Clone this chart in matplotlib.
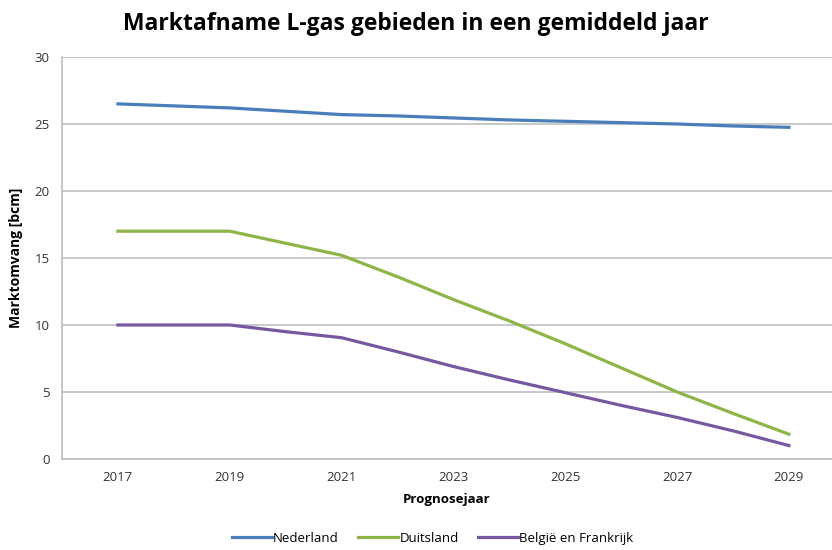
import matplotlib.pyplot as plt
import numpy as np

plt.rcParams['font.family'] = ['Open Sans', 'DejaVu Sans']

jaren = [2017, 2018, 2019, 2020, 2021, 2022, 2023, 2024, 2025, 2026, 2027, 2028, 2029]
nederland = [26.5, 26.35, 26.2, 25.95, 25.7, 25.6, 25.45, 25.3, 25.2, 25.1, 25.0, 24.85, 24.75]
duitsland = [17.0, 17.0, 17.0, 16.1, 15.2, 13.6, 11.9, 10.3, 8.6, 6.8, 5.0, 3.4, 1.85]
belgie_frankrijk = [10.0, 10.0, 10.0, 9.5, 9.05, 8.0, 6.9, 5.9, 4.95, 4.0, 3.1, 2.1, 1.0]

xticks = [2017, 2019, 2021, 2023, 2025, 2027, 2029]
yticks = [0, 5, 10, 15, 20, 25, 30]

fig = plt.figure(figsize=(8.32, 5.5), dpi=100)
ax = fig.add_axes([0.0745, 0.1655, 0.9255, 0.7309])

ax.plot(jaren, nederland, color='#4a7ebb', lw=2.3, label='Nederland')
ax.plot(jaren, duitsland, color='#8fb448', lw=2.3, label='Duitsland')
ax.plot(jaren, belgie_frankrijk, color='#7558a0', lw=2.3, label='België en Frankrijk')

ax.set_xlim(2016.0, 2029.77)
ax.set_ylim(0, 30)
ax.set_xticks(xticks)
ax.set_yticks(yticks)
ax.tick_params(length=0, labelsize=9.5, colors='#333333')
ax.tick_params(axis='x', pad=9)
ax.tick_params(axis='y', pad=9)
ax.grid(axis='y', color='#c0c0c0', lw=1.2)
ax.set_axisbelow(True)
for s in ['top', 'right']:
    ax.spines[s].set_visible(False)
for s in ['left', 'bottom']:
    ax.spines[s].set_color('#bdbdbd')
    ax.spines[s].set_linewidth(1.2)

ax.set_xlabel('Prognosejaar', fontsize=9.5, fontweight='bold', labelpad=6)
ax.set_ylabel('Marktomvang [bcm]', fontsize=10, fontweight='bold', labelpad=8)

fig.suptitle('Marktafname L-gas gebieden in een gemiddeld jaar', fontsize=16.5, fontweight='bold', y=0.978)

fig.legend(loc='lower center', bbox_to_anchor=(0.52, -0.012), ncol=3, frameon=False,
           fontsize=9.5, handlelength=3, handletextpad=0.1, columnspacing=1.5)

fig.savefig('out.png', dpi=100)
